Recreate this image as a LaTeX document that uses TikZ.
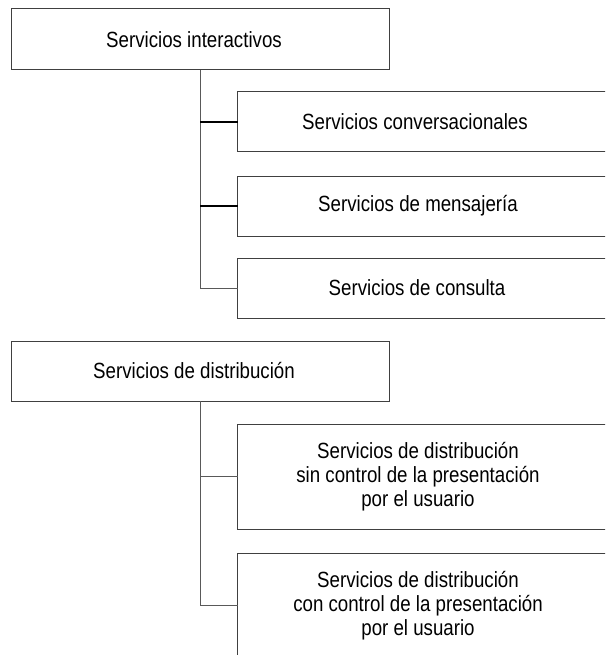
\documentclass[tikz,border=0pt]{standalone}
\usepackage{fontspec}
\setmainfont{Liberation Sans}[FakeStretch=0.85]
\begin{document}
\begin{tikzpicture}[x=1pt,y=-1pt,
  box/.style={draw=black!75,line width=1pt,fill=white,anchor=north west,inner sep=0pt,outer sep=0pt},
  lbl/.style={font=\fontsize{22}{24}\selectfont,align=center,inner sep=0pt},
  conn/.style={draw=black!65,line width=1pt},
  joint/.style={draw=black,line width=1.6pt}]
\useasboundingbox (0,0) rectangle (605,655);
\clip (0,0) rectangle (605,655);
% first tree
\node[box,minimum width=378pt,minimum height=61pt] (i1) at (11,9) {};
\node[lbl] (i1t) at (194,39.5) {Servicios interactivos};
\node[box,minimum width=383pt,minimum height=60pt] (c1) at (237.5,92) {};
\node[lbl] (c1t) at (415,122) {Servicios conversacionales};
\node[box,minimum width=383pt,minimum height=60pt] (c2) at (237.5,176) {};
\node[lbl] (c2t) at (418,206) {Servicios de mensajería};
\node[box,minimum width=383pt,minimum height=60pt] (c3) at (237.5,258) {};
\node[lbl] (c3t) at (417,288) {Servicios de consulta};
\draw[conn] (i1.south) |- (c3.west);
\draw[joint] (i1.south |- c1.west) -- (c1.west);
\draw[joint] (i1.south |- c2.west) -- (c2.west);
% second tree
\node[box,minimum width=378pt,minimum height=60pt] (d1) at (11,341) {};
\node[lbl] (d1t) at (194,371) {Servicios de distribución};
\node[box,minimum width=383pt,minimum height=105pt] (e1) at (237.5,424) {};
\node[lbl] (e1t) at (418,476.5) {Servicios de distribución\\sin control de la presentación\\por el usuario};
\node[box,minimum width=383pt,minimum height=105pt] (e2) at (237.5,553) {};
\node[lbl] (e2t) at (418,605.5) {Servicios de distribución\\con control de la presentación\\por el usuario};
\draw[conn] (d1.south) |- (e2.west);
\draw[conn] (d1.south |- e1.west) -- (e1.west);
\end{tikzpicture}
\end{document}
